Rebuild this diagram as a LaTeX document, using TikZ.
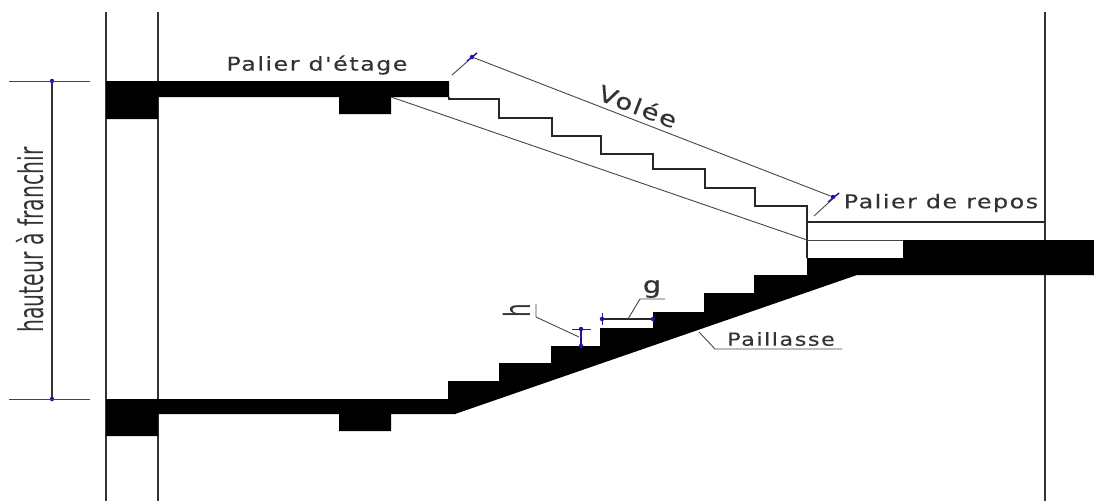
\documentclass[tikz,border=0pt]{standalone}
\usepackage{fontspec}
\newfontfamily\cadfont[LetterSpace=8,FakeStretch=1.25,FakeBold=0.25]{DejaVu Sans}
\newfontfamily\cadnarrow[FakeStretch=0.6]{DejaVu Sans}
\definecolor{dimblue}{RGB}{30,20,170}
\definecolor{cadgrey}{RGB}{70,70,70}
\tikzset{
	wall/.style={line width=1.2pt,black!80},
	thin line/.style={line width=0.9pt,cadgrey},
	tread/.style={line width=1.3pt,black!85},
	dimdot/.style={circle,fill=dimblue,inner sep=0pt,minimum size=4.5pt},
	label/.style={inner sep=0pt,text=black!80},
}
\begin{document}
\begin{tikzpicture}[x=1pt,y=-1pt]
	\useasboundingbox (0,0) rectangle (1094,501);
	\draw[wall] (106,12) -- (106,501);
	\draw[wall] (158,12) -- (158,501);
	\draw[wall] (1045,12) -- (1045,501);
	\fill[black] (106,81) -- (449,81) -- (449,97) -- (391,97) -- (391,114) -- (339,114) -- (339,97) -- (158,97) -- (158,119) -- (106,119) -- cycle;
	\fill[black] (106,399) -- (448,399) -- (448,381) -- (499,381) -- (499,363) -- (551,363) -- (551,346) -- (600,346) -- (600,328) -- (653,328) -- (653,312) -- (704,312) -- (704,293) -- (754,293) -- (754,275) -- (807,275) -- (807,258) -- (903,258) -- (903,240) -- (1094,240) -- (1094,275) -- (857,275) -- (455,414) -- (391,414) -- (391,431) -- (339,431) -- (339,414) -- (158,414) -- (158,436) -- (106,436) -- cycle;
	\draw[tread] (449,97) -- (449,99) -- (499,99) -- (499,118) -- (552,118) -- (552,136) -- (601,136) -- (601,154) -- (653,154) -- (653,169) -- (705,169) -- (705,188) -- (755,188) -- (755,206) -- (807,206) -- (807,258);
	\draw[tread] (807,222) -- (1045,222);
	\draw[thin line] (807,240) -- (903,240);
	\draw[thin line] (391,97) -- (807,240);
	% hauteur
	\node[dimdot] (v1) at (52,81) {};
	\node[dimdot] (v2) at (52,399) {};
	\draw[wall] (v1) -- (v2);
	\draw[thin line] (9,81) -- (90,81);
	\draw[thin line] (9,399) -- (90,399);
	\node[label,rotate=90] (hauteur) at (30,240) {\fontsize{34}{34}\cadnarrow hauteur à franchir};
	% volee
	\node[dimdot] (v3) at (472,57) {};
	\node[dimdot] (v4) at (833,197) {};
	\draw[thin line] (v3) -- (v4);
	\draw[thin line] (452,75) -- (477,53);
	\draw[thin line] (814,216) -- (839,193);
	\draw[tread,dimblue] (467,61) -- (477,53);
	\draw[tread,dimblue] (828,202) -- (839,193);
	\node[label,rotate=-21] (volee) at (638,106) {\fontsize{22}{22}\cadfont Volée};
	\node[label] (etage) at (317,65) {\fontsize{19}{19}\cadfont Palier d'étage};
	\node[label] (repos) at (941,203) {\fontsize{19}{19}\cadfont Palier de repos};
	\node[label] (paillasse) at (781,339) {\fontsize{18}{18}\cadfont Paillasse};
	% h
	\node[dimdot] (v5) at (581,329) {};
	\node[dimdot] (v6) at (581,346) {};
	\draw[tread,dimblue] (v5) -- (v6);
	\draw[thin line,dimblue] (572,329) -- (591,329);
	\draw[thin line] (536,304) -- (536,317) -- (579,337);
	\node[label,rotate=90] (h) at (517,311) {\fontsize{36}{36}\cadnarrow h};
	% g
	\node[dimdot] (v7) at (602,319) {};
	\node[dimdot] (v8) at (653,319) {};
	\draw[tread] (v7) -- (v8);
	\draw[thin line,dimblue] (602,313) -- (602,325);
	\draw[thin line] (628,319) -- (640,299) -- (665,299);
	\node[label] (g) at (652,289) {\fontsize{23}{23}\cadfont g};
	% paillasse
	\draw[thin line] (699,332) -- (715,349) -- (842,349);
\end{tikzpicture}
\end{document}
